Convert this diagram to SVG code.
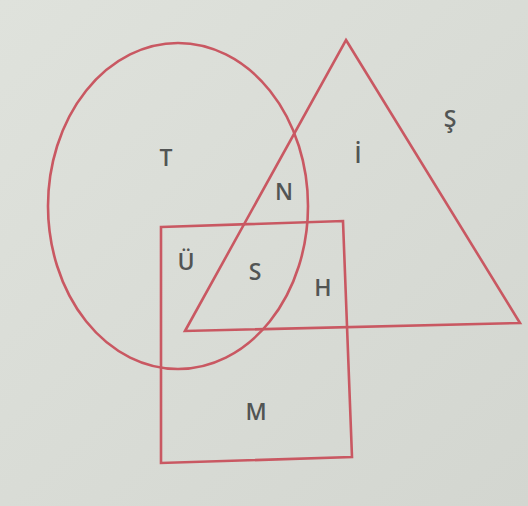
<svg xmlns="http://www.w3.org/2000/svg" width="528" height="506" viewBox="0 0 528 506">
<defs>
<linearGradient id="bg" x1="0" y1="0" x2="1" y2="1">
<stop offset="0" stop-color="#dfe2dc"/>
<stop offset="1" stop-color="#d3d6d0"/>
</linearGradient>
</defs>
<style>
.shape{fill:none;stroke:#c95862;stroke-width:2.6;stroke-linejoin:miter}
.lbl{font-family:"Open Sans","Liberation Sans",Arial,sans-serif;font-size:23px;fill:#525554;text-anchor:middle;font-weight:600}
</style>
<rect width="528" height="506" fill="url(#bg)"/>
<g id="circle-T"><ellipse class="shape" cx="178" cy="206" rx="130" ry="163"/></g>
<g id="triangle"><polygon class="shape" points="346,40 520,323 185,331"/></g>
<g id="square-M"><polygon class="shape" points="161,227 343,221 352,457 161,463"/></g>
<g id="labels">
<text class="lbl" x="166" y="166">T</text>
<text class="lbl" x="358" y="163">İ</text>
<text class="lbl" x="450" y="127">Ş</text>
<text class="lbl" x="284" y="200">N</text>
<text class="lbl" x="186" y="270">Ü</text>
<text class="lbl" x="255" y="280">S</text>
<text class="lbl" x="323" y="296">H</text>
<text class="lbl" x="256" y="420">M</text>
</g>
</svg>
